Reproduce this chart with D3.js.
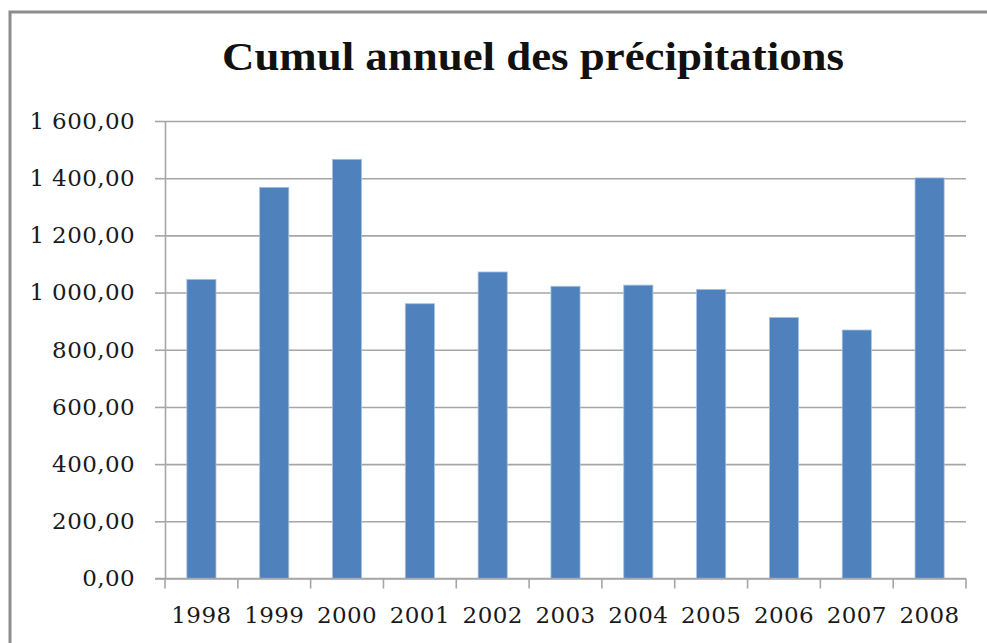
<!DOCTYPE html>
<html>
<head>
<meta charset="utf-8">
<script src="https://cdn.jsdelivr.net/npm/d3@7"></script>
<style>
  body { margin: 0; background: #fff; }
  svg { display: block; }
</style>
</head>
<body>
<div id="chart"></div>
<script>
const years = ["1998", "1999", "2000", "2001", "2002", "2003", "2004", "2005", "2006", "2007", "2008"];
const rainfall = [1046, 1368, 1466, 961, 1072, 1022, 1026, 1011, 913, 869, 1401];
const yTicks = [0, 200, 400, 600, 800, 1000, 1200, 1400, 1600];
const title = "Cumul annuel des précipitations";

const W = 987, H = 643;
const MARGIN = { TOP: 121, BOTTOM: 64.5, LEFT: 165, RIGHT: 21 };

const svg = d3.select("#chart").append("svg")
  .attr("width", W)
  .attr("height", H);

// chart frame (only top and left edges are in view)
svg.append("path")
  .attr("d", `M10,${H} V12 H${W}`)
  .attr("fill", "none")
  .attr("stroke", "#8c8c8c")
  .attr("stroke-width", 3);

svg.append("text")
  .attr("x", 533)
  .attr("y", 70)
  .attr("text-anchor", "middle")
  .attr("textLength", 622)
  .attr("lengthAdjust", "spacingAndGlyphs")
  .style("font-family", "'Liberation Serif', serif")
  .style("font-weight", "bold")
  .style("font-size", "40px")
  .attr("fill", "#111")
  .text(title);

const x = d3.scaleBand()
  .domain(years)
  .range([MARGIN.LEFT, W - MARGIN.RIGHT])
  .paddingInner(0.6)
  .paddingOuter(0.3);

const y = d3.scaleLinear()
  .domain([0, 1600])
  .range([H - MARGIN.BOTTOM, MARGIN.TOP]);

const fmt = v => d3.format(",.2f")(v).replace(",", " ").replace(".", ",");

// gridlines + y axis
const yAxis = svg.append("g")
  .attr("transform", `translate(${MARGIN.LEFT},0)`)
  .call(d3.axisLeft(y).tickValues(yTicks).tickSize(10).tickSizeOuter(0).tickPadding(20).tickFormat(fmt));

yAxis.selectAll(".tick line").clone()
  .attr("x1", 0)
  .attr("x2", W - MARGIN.RIGHT - MARGIN.LEFT);

yAxis.selectAll("line, path")
  .attr("stroke", "#a6a6a6")
  .attr("stroke-width", 1.6);
yAxis.selectAll("text")
  .style("font-family", "'DejaVu Serif', serif")
  .style("font-size", "23px")
  .style("letter-spacing", "0.4px")
  .attr("fill", "#1a1a1a");

// bars
svg.append("g").selectAll("rect")
  .data(years.map((yr, i) => ({ year: yr, value: rainfall[i] })))
  .join("rect")
  .attr("x", d => x(d.year))
  .attr("y", d => y(d.value))
  .attr("width", x.bandwidth())
  .attr("height", d => y(0) - y(d.value))
  .attr("fill", "#4f81bd")
  .attr("stroke", "#a9c0e0")
  .attr("stroke-width", 0.8);

// x axis with ticks between categories
const xAxis = svg.append("g")
  .attr("transform", `translate(0,${y(0)})`);

xAxis.append("line")
  .attr("x1", MARGIN.LEFT - 10)
  .attr("x2", W - MARGIN.RIGHT)
  .attr("stroke", "#a6a6a6")
  .attr("stroke-width", 1.6);

const step = x.step();
xAxis.selectAll("line.sep")
  .data(d3.range(years.length + 1))
  .join("line")
  .attr("class", "sep")
  .attr("x1", i => MARGIN.LEFT + i * step)
  .attr("x2", i => MARGIN.LEFT + i * step)
  .attr("y1", 0)
  .attr("y2", 10)
  .attr("stroke", "#a6a6a6")
  .attr("stroke-width", 1.6);

xAxis.selectAll("text")
  .data(years)
  .join("text")
  .attr("x", d => x(d) + x.bandwidth() / 2)
  .attr("y", 44)
  .attr("text-anchor", "middle")
  .style("font-family", "'DejaVu Serif', serif")
  .style("font-size", "23px")
  .style("letter-spacing", "0.4px")
  .attr("fill", "#1a1a1a")
  .text(d => d);
</script>
</body>
</html>
